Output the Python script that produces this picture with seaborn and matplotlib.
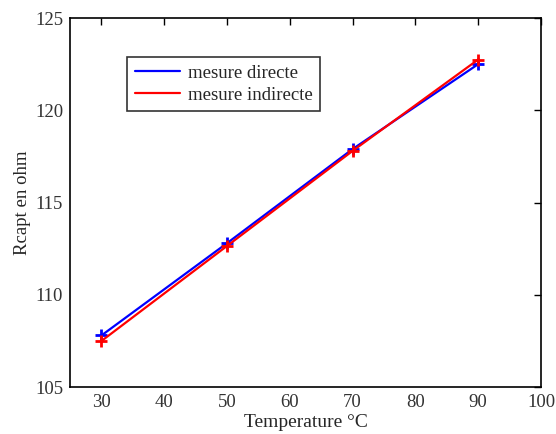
import pandas as pd
import matplotlib
matplotlib.use("Agg")
import matplotlib.pyplot as plt
import seaborn as sns

# values
temperature = [30, 50, 70, 90]
r_directe = [107.8, 112.8, 117.9, 122.5]
r_indirecte = [107.5, 112.65, 117.8, 122.75]
series_names = ["mesure directe", "mesure indirecte"]
colors = ["#0000ff", "#ff0000"]

df = pd.DataFrame({
    "T": temperature * 2,
    "R": r_directe + r_indirecte,
    "serie": [series_names[0]] * len(temperature) + [series_names[1]] * len(temperature),
})

sns.set_style("white")
plt.rcParams['font.family'] = ['Liberation Serif', 'DejaVu Serif']

fig = plt.figure(figsize=(5.56, 4.34), dpi=100)
ax = fig.add_axes([0.126, 0.108, 0.847, 0.8505])

sns.lineplot(data=df, x="T", y="R", hue="serie", style="serie",
             palette=colors, markers=["+", "+"], dashes=False,
             linewidth=1.6, ax=ax)
for line in ax.get_lines():
    line.set_markersize(8)
    line.set_markeredgewidth(2)
    line.set_markeredgecolor(line.get_color())

ax.set_xlim(25, 100)
ax.set_ylim(105, 125)
ax.set_xticks(range(30, 101, 10))
ax.set_yticks(range(105, 126, 5))
ax.tick_params(direction="in", top=True, right=True, length=5, width=1,
               labelsize=13.5, labelcolor="#333333", color="black", pad=5)
for s in ax.spines.values():
    s.set_color("black")
    s.set_linewidth(1.2)

ax.set_xlabel("Temperature °C", fontsize=14, labelpad=2)
ax.set_ylabel("Rcapt en ohm", fontsize=13.5, labelpad=3)

handles, labels = ax.get_legend_handles_labels()
for h in handles:
    h.set_marker("")
leg = ax.legend(handles, labels, loc="upper left", bbox_to_anchor=(0.121, 0.894),
                fontsize=13.5, frameon=True, fancybox=False, handlelength=2.4,
                borderpad=0.4, labelspacing=0.25, handletextpad=0.45,
                borderaxespad=0)
leg.get_frame().set_edgecolor("black")
leg.get_frame().set_linewidth(1.2)

fig.savefig("out.png", dpi=100)
